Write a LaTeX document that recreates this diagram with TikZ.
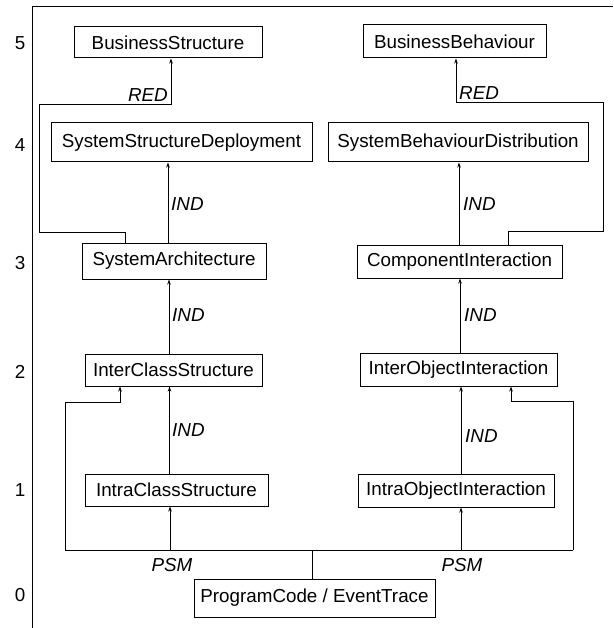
\documentclass[tikz,border=0pt]{standalone}
\usepackage{fontspec}
\setmainfont{Liberation Sans}
\usetikzlibrary{arrows.meta}
\begin{document}
\begin{tikzpicture}[x=1pt,y=-1pt,
  font=\fontsize{18.8}{22}\selectfont,
  box/.style={draw,line width=1pt,inner sep=0pt,anchor=center},
  conn/.style={line width=0.9pt},
  arr/.style={conn,-{Stealth[length=5pt,width=3.5pt]}},
  lab/.style={font=\fontsize{18.8}{22}\selectfont\itshape,inner sep=1pt},
  lvl/.style={inner sep=0pt}]
\useasboundingbox (0,0) rectangle (613,628);
% frame
\coordinate (ftl) at (32,7);
\coordinate (ftr) at (613,7);
\coordinate (fbl) at (32,628);
\draw[line width=1pt] (ftr) -- (ftl) -- (fbl);
% level numbers
\node[lvl] (l5) at (20,43) {5};
\node[lvl] (l4) at (20,145) {4};
\node[lvl] (l3) at (20,263) {3};
\node[lvl] (l2) at (20,372) {2};
\node[lvl] (l1) at (20,490) {1};
\node[lvl] (l0) at (20,595) {0};
% boxes
\node[box,minimum width=188,minimum height=31] (BS) at (168,42.5) {BusinessStructure};
\node[box,minimum width=261,minimum height=39] (SSD) at (181.5,142.5) {SystemStructureDeployment};
\node[box,minimum width=183,minimum height=33] (BB) at (454.5,41.5) {BusinessBehaviour};
\node[box,minimum width=260,minimum height=39] (SBD) at (458,142.5) {SystemBehaviourDistribution};
\node[box,minimum width=184,minimum height=36] (SA) at (174,261) {SystemArchitecture};
\node[box,minimum width=205,minimum height=33] (CI) at (459.5,261.5) {ComponentInteraction};
\node[box,minimum width=177,minimum height=32] (ICS) at (173.5,370) {InterClassStructure};
\node[box,minimum width=197,minimum height=33] (IOI) at (458.5,369.5) {InterObjectInteraction};
\node[box,minimum width=183,minimum height=32] (ACS) at (176.5,490) {IntraClassStructure};
\node[box,minimum width=196,minimum height=33] (AOI) at (456,490.5) {IntraObjectInteraction};
\node[box,minimum width=241,minimum height=38] (PC) at (314.5,598) {ProgramCode / EventTrace};
% RED connectors
\draw[arr] ([xshift=-49pt]SA.north) -- ++(0,-10) -| (39,104) -| ([xshift=3pt]BS.south);
\node[lab,anchor=east] (redL) at (169,95) {RED};
\draw[arr] ([xshift=48.5pt]CI.north) -- ++(0,-13) -| (603,102) -| ([xshift=1.5pt]BB.south);
\node[lab,anchor=west] (redR) at (458,93) {RED};
% IND connectors
\draw[arr] ([xshift=-6pt]SA.north) -- ([xshift=-6pt]SA.north |- SSD.south);
\node[lab,anchor=west] (i1) at (170,204) {IND};
\draw[arr] ([xshift=-0.5pt]CI.north) -- ([xshift=-0.5pt]CI.north |- SBD.south);
\node[lab,anchor=west] (i2) at (462,204) {IND};
\draw[arr] ([xshift=-4.5pt]ICS.north) -- ([xshift=-4.5pt]ICS.north |- SA.south);
\node[lab,anchor=west] (i3) at (171,315) {IND};
\draw[arr] ([xshift=1.5pt]IOI.north) -- ([xshift=1.5pt]IOI.north |- CI.south);
\node[lab,anchor=west] (i4) at (463,315) {IND};
\draw[arr] ([xshift=-7pt]ACS.north) -- ([xshift=-7pt]ACS.north |- ICS.south);
\node[lab,anchor=west] (i5) at (171,430) {IND};
\draw[arr] ([xshift=5pt]AOI.north) -- ([xshift=5pt]AOI.north |- IOI.south);
\node[lab,anchor=west] (i6) at (464,436) {IND};
% PSM bus
\coordinate (busL) at (65,550);
\coordinate (busR) at (573,550);
\draw[conn] ([xshift=-2.5pt]PC.north) -- ([xshift=-2.5pt]PC.north |- busL);
\draw[conn] (busL) -- (busR);
\draw[arr] (busL) -- (65,402) -| ([xshift=-53.5pt]ICS.south);
\draw[arr] (busR) -- (573,401) -| ([xshift=52.5pt]IOI.south);
\draw[arr] ([xshift=-6.5pt]ACS.south |- busL) -- ([xshift=-6.5pt]ACS.south);
\draw[arr] ([xshift=5pt]AOI.south |- busL) -- ([xshift=5pt]AOI.south);
\node[lab] (psmL) at (172,565) {PSM};
\node[lab] (psmR) at (462,565) {PSM};
\end{tikzpicture}
\end{document}
